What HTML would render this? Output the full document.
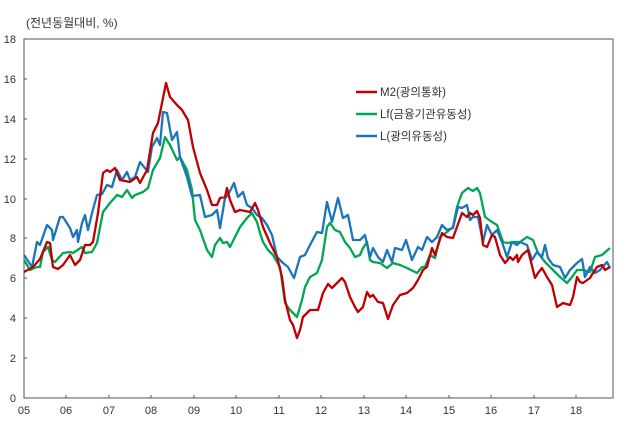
<!DOCTYPE html>
<html><head><meta charset="utf-8"><style>
body{margin:0;background:#fff;}
svg{display:block;font-family:"Liberation Sans","Noto Sans CJK KR",sans-serif;}
</style></head><body>
<svg width="626" height="424" viewBox="0 0 626 424" xmlns="http://www.w3.org/2000/svg">
<text x="26" y="27" font-size="12" fill="#333">(전년동월대비, %)</text>
<g font-size="11" fill="#333" text-anchor="end">
<text x="16" y="43">18</text><text x="16" y="83">16</text><text x="16" y="123">14</text>
<text x="16" y="163">12</text><text x="16" y="203">10</text><text x="16" y="242">8</text>
<text x="16" y="282">6</text><text x="16" y="322">4</text><text x="16" y="362">2</text>
<text x="16" y="402">0</text>
</g>
<g font-size="11" fill="#333" text-anchor="middle">
<text x="24" y="414">05</text><text x="66" y="414">06</text><text x="109" y="414">07</text>
<text x="151" y="414">08</text><text x="194" y="414">09</text><text x="236" y="414">10</text>
<text x="279" y="414">11</text><text x="321" y="414">12</text><text x="364" y="414">13</text>
<text x="406" y="414">14</text><text x="449" y="414">15</text><text x="491" y="414">16</text>
<text x="534" y="414">17</text><text x="576" y="414">18</text>
</g>
<rect x="24" y="39" width="589" height="359" fill="none" stroke="#555" stroke-width="1"/>
<g stroke="#555" stroke-width="1">
<path d="M24 79h3M24 119h3M24 159h3M24 199h3M24 238h3M24 278h3M24 318h3M24 358h3"/>
<path d="M66 398v-3M109 398v-3M151 398v-3M194 398v-3M236 398v-3M279 398v-3M321 398v-3M364 398v-3M406 398v-3M449 398v-3M491 398v-3M534 398v-3M576 398v-3"/>
</g>
<g fill="none" stroke-width="2.3" stroke-linejoin="round">
<polyline stroke="#00a651" points="24,260 30,270 37,267 40,267 43,252 48,247 52,260 55,262 63,253 70,252 73,253 82,247 85,253 92,252 97,243 103,212 110,203 117,195 122,197 127,190 132,198 135,195 143,192 148,188 153,170 160,158 165,137 170,145 177,160 180,157 187,170 192,190 195,220 200,230 207,250 212,257 215,245 220,238 223,243 227,242 230,247 235,237 240,227 247,218 252,213 253,215 257,222 260,233 263,242 268,250 273,255 280,267 285,303 290,310 297,317 302,300 305,287 310,277 317,273 322,260 327,227 330,223 335,230 340,232 345,242 350,248 355,257 360,255 363,248 367,242 370,260 373,262 380,263 387,268 393,263 400,265 407,268 417,273 422,267 425,267 430,255 435,258 440,237 447,232 453,227 457,207 462,193 468,188 473,191 477,188 480,193 485,217 492,222 497,225 503,242 508,243 513,242 520,242 527,237 533,240 538,253 545,262 553,270 560,277 567,283 572,277 577,270 583,270 590,272 595,257 602,255 610,248"/>
<polyline stroke="#1a75bc" points="24,255 32,267 37,242 40,245 47,225 52,230 53,240 60,217 63,217 70,228 73,237 77,230 78,242 82,223 85,215 88,230 92,213 97,195 102,194 107,185 112,187 117,170 122,180 127,172 130,180 135,177 140,162 148,172 152,147 157,138 160,145 163,112 167,113 172,140 177,132 180,157 187,177 192,196 200,195 205,217 212,215 217,210 220,228 225,198 228,195 234,183 238,197 243,192 247,205 252,208 257,215 262,218 267,225 272,235 277,257 283,263 288,267 294,278 300,257 305,255 310,245 317,232 322,233 327,202 332,222 338,198 343,218 348,215 353,240 360,240 365,235 370,257 373,248 378,257 383,262 387,250 392,262 395,248 402,250 406,240 412,260 418,247 422,250 427,237 432,242 437,237 442,225 447,230 453,228 458,207 462,208 467,205 470,220 473,217 478,217 483,242 487,225 492,235 497,230 502,242 507,257 512,242 517,245 520,242 527,245 532,260 537,252 542,257 545,245 548,258 553,265 560,267 565,278 570,270 577,263 582,259 585,277 590,267 595,273 600,270 607,262 610,268"/>
<polyline stroke="#c00000" points="24,272 33,267 40,259 47,242 50,243 53,267 58,269 63,265 70,255 75,265 80,260 85,245 90,245 93,242 98,213 103,173 107,170 110,172 115,168 120,180 130,182 137,177 140,183 147,170 153,133 158,123 162,103 166,83 170,97 177,105 182,110 188,120 193,147 200,173 207,190 212,205 217,205 220,198 225,197 227,188 230,200 235,212 240,210 250,212 255,203 258,210 263,227 270,243 277,257 282,277 285,300 290,320 293,325 297,338 300,330 303,317 310,310 318,310 323,293 328,284 332,288 337,283 342,278 345,282 350,297 355,307 358,312 363,307 367,292 370,297 373,295 378,302 383,303 388,319 393,305 400,295 407,293 413,288 418,280 423,270 427,267 432,248 435,255 442,233 447,237 453,238 462,213 467,217 470,213 473,215 477,211 480,218 483,245 487,247 492,235 495,237 500,255 505,263 510,257 513,260 517,255 518,262 522,255 528,250 535,278 538,273 542,268 547,277 552,285 557,307 563,303 570,305 573,297 577,277 580,282 583,283 590,278 593,273 597,267 602,265 605,270 610,267"/>
</g>
<g stroke-width="2.5">
<line x1="356" y1="92" x2="377" y2="92" stroke="#c00000"/>
<line x1="356" y1="114" x2="377" y2="114" stroke="#00a651"/>
<line x1="356" y1="136" x2="377" y2="136" stroke="#1a75bc"/>
</g>
<g font-size="11.5" fill="#333">
<text x="380" y="96">M2(광의통화)</text>
<text x="380" y="118">Lf(금융기관유동성)</text>
<text x="380" y="140">L(광의유동성)</text>
</g>
</svg>
</body></html>
